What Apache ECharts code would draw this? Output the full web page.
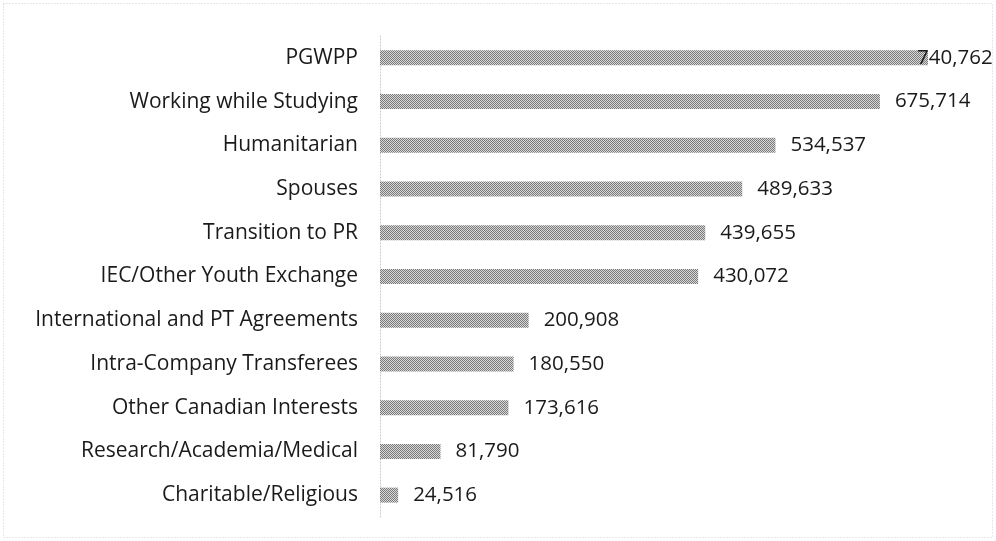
<!DOCTYPE html>
<html><head><meta charset="utf-8">
<script src="https://cdn.jsdelivr.net/npm/echarts@6/dist/echarts.min.js"></script>
<style>html,body{margin:0;padding:0;background:#fff}#c{width:996px;height:541px}</style>
</head><body><div id="c"></div>
<script>
var categories = ["PGWPP","Working while Studying","Humanitarian","Spouses","Transition to PR","IEC/Other Youth Exchange","International and PT Agreements","Intra-Company Transferees","Other Canadian Interests","Research/Academia/Medical","Charitable/Religious"];
var values = [740762,675714,534537,489633,439655,430072,200908,180550,173616,81790,24516];

var pc = document.createElement('canvas');
pc.width = 2; pc.height = 2;
var g = pc.getContext('2d');
g.fillStyle = '#d8d8d8'; g.fillRect(0,0,2,2);
g.fillStyle = '#7a7a7a'; g.fillRect(0,0,1,1); g.fillRect(1,1,1,1);

var chart = echarts.init(document.getElementById('c'), null, {renderer:'canvas'});
var font = '"Open Sans", "Noto Sans", sans-serif';
var data = values.map(function(v,i){
  var d = {value: v};
  if (i === 0) d.label = {offset: [-26, 0]};
  return d;
});
chart.setOption({
  animation: false,
  graphic: [{type:'rect', shape:{x:3.5,y:3.5,width:989,height:534}, style:{fill:'none', stroke:'#d0d0d0', lineWidth:1, lineDash:[1,2]}, silent:true}],
  grid: {left: 380, top: 36, bottom: 24, width: 548 * 800000 / 740762, containLabel: false},
  xAxis: {type:'value', min:0, max:800000, show:false, splitLine:{show:false}},
  yAxis: {type:'category', data: categories, inverse: true,
    axisLine:{show:true, lineStyle:{color:'#c8c8c8', type:[1,2], width:1}},
    axisTick:{show:false},
    axisLabel:{margin:22, fontSize:21, color:'#1a1a1a', fontFamily: font}
  },
  series: [{type:'bar', data: data, barWidth: 15,
    itemStyle:{color:{image: pc, repeat:'repeat'}},
    label:{show:true, position:'right', distance:15, fontSize:20.5, color:'#1a1a1a', fontFamily: font,
      formatter: function(p){ return p.value.toLocaleString('en-US'); }}
  }]
});
</script></body></html>
